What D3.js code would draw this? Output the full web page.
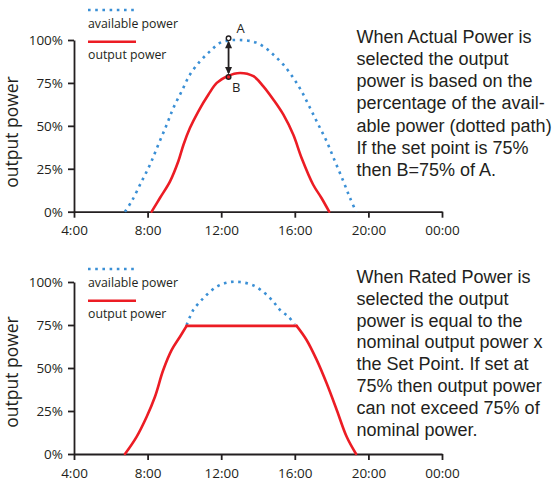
<!DOCTYPE html>
<html><head><meta charset="utf-8">
<script src="https://cdn.jsdelivr.net/npm/d3@7/dist/d3.min.js"></script>
<style>
body{margin:0;background:#fff;}
svg{display:block;}
</style></head>
<body>
<svg id="c" width="556" height="485"></svg>
<script>
// ---- data ----
const xTicks = [4, 8, 12, 16, 20, 24];
const xTickLabels = ["4:00", "8:00", "12:00", "16:00", "20:00", "00:00"];
const yTicks = [0, 25, 50, 75, 100];
const yTickLabels = ["0%", "25%", "50%", "75%", "100%"];

const topAvailHours = [6.77,7.13,7.68,8.13,8.58,9.04,9.40,9.85,10.3,10.85,11.39,11.93,12.48,13.02,13.75,14.29,14.84,15.38,15.92,16.37,16.83,17.28,17.73,18.18,18.64,19.0,19.33];
const topAvailValues = [0,6,17.7,27.4,39,50.7,60.4,70.1,79.8,87.6,93.4,98.3,99.8,100,99,96.3,91.4,85.6,77.9,70.1,60.4,50.7,41,29.4,17.7,8,0];

const topOutHours = [8.22,8.67,9.22,9.67,9.95,10.3,10.76,11.3,11.76,12.33,13.02,13.75,14.29,14.84,15.38,15.92,16.37,17.0,17.45,17.87];
const topOutValues = [0,8,17.7,29.4,39,48.7,58.5,68.1,75,78.9,80.8,78.9,73,65.2,56.5,44.8,31.3,15.7,8,0];

const pointA = {h: 12.4, v: 101};
const pointB = {h: 12.4, v: 78.5};

const botAvailHours = [10.12,10.48,10.85,11.2,11.76,12.38,13.02,13.75,14.38,14.84,15.2,15.65,16.0];
const botAvailValues = [75,83.7,88.5,92.4,97.3,99.8,100,98,93.4,88.5,83.7,79.8,75.5];

// output power (rated mode): rising part, flat cap, falling part
const botRiseHours = [6.77,7.4,7.95,8.4,8.85,9.31,9.76,10.12];
const botRiseValues = [0,10,21.7,33.3,48.8,60.5,68.2,74.5];
const botCapHours = [10.12,16.1];
const botCapValues = [74.5,74.5];
const botFallHours = [16.1,16.64,17.19,17.73,18.28,18.82,19.33];
const botFallValues = [74.5,66.3,54.7,41.1,25.6,10,0];

const legendLabels = ["available power", "output power"];
const yLabel = "output power";
const topText = ["When Actual Power is","selected the output","power is based on the","percentage of the avail-","able power (dotted path)","If the set point is 75%","then B=75% of A."];
const botText = ["When Rated Power is","selected the output","power is equal to the","nominal output power x","the Set Point. If set at","75% then output power","can not exceed 75% of","nominal power."];

// ---- style ----
const INK = "#231f20", BLUE = "#3a8fd5", RED = "#ec1c24";
const tickFont = "'Open Sans', sans-serif";
const svg = d3.select("#c");

const x = d3.scaleLinear().domain([4, 24]).range([74, 442]);

function panel(yTop, yBottom, legendTop, textLines, textBase, textStep, labelY) {
  const y = d3.scaleLinear().domain([0, 100]).range([yBottom, yTop]);
  const g = svg.append("g");

  const xa = g.append("g").attr("transform", `translate(0,${yBottom})`)
    .call(d3.axisBottom(x).tickValues(xTicks).tickFormat((d,i)=>xTickLabels[i]).tickSize(6).tickSizeOuter(0).tickPadding(8));
  const ya = g.append("g").attr("transform", `translate(74,0)`)
    .call(d3.axisLeft(y).tickValues(yTicks).tickFormat((d,i)=>yTickLabels[i]).tickSize(6).tickSizeOuter(0).tickPadding(5));
  [xa, ya].forEach(a => {
    a.selectAll("path,line").attr("stroke", INK).attr("stroke-width", 1.8);
    a.selectAll("text").attr("fill", INK).style("font-family", tickFont).style("font-size", "13.5px");
  });
  ya.selectAll("text").attr("dy", "0.36em");

  g.append("text").attr("transform", `translate(18,${labelY}) rotate(-90)`)
    .attr("text-anchor", "middle").attr("fill", INK)
    .style("font-family", tickFont).style("font-size", "17.5px").text(yLabel);

  // legend
  g.append("line").attr("x1", 88).attr("x2", 136).attr("y1", legendTop).attr("y2", legendTop)
    .attr("stroke", BLUE).attr("stroke-width", 2.6).attr("stroke-dasharray", "2.6,4.6");
  g.append("text").attr("x", 88).attr("y", legendTop + 18).attr("fill", INK)
    .style("font-family", tickFont).style("font-size", "12.3px").text(legendLabels[0]);
  g.append("line").attr("x1", 88).attr("x2", 136).attr("y1", legendTop + 31.7).attr("y2", legendTop + 31.7)
    .attr("stroke", RED).attr("stroke-width", 2.6);
  g.append("text").attr("x", 88).attr("y", legendTop + 49).attr("fill", INK)
    .style("font-family", tickFont).style("font-size", "12.3px").text(legendLabels[1]);

  const t = g.append("text").attr("fill", INK)
    .style("font-family", "'Liberation Sans', Arial, sans-serif").style("font-size", "18px");
  textLines.forEach((s, i) => t.append("tspan").attr("x", 356.5).attr("y", textBase + i * textStep).text(s));

  return {g, y};
}

function drawSeries(p, hours, values, color, dotted, curve) {
  const line = d3.line().x(d => x(d[0])).y(d => p.y(d[1])).curve(curve);
  const path = p.g.append("path").datum(d3.zip(hours, values)).attr("d", line)
    .attr("fill", "none").attr("stroke", color).attr("stroke-width", 2.6);
  if (dotted) path.attr("stroke-dasharray", "2.6,4.6");
  else path.attr("stroke-linecap", "round").attr("stroke-linejoin", "round");
}

const smooth = d3.curveCatmullRom.alpha(0.5);

const pTop = panel(40, 211.7, 10, topText, 42.7, 22.2, 132);
drawSeries(pTop, topAvailHours, topAvailValues, BLUE, true, smooth);
drawSeries(pTop, topOutHours, topOutValues, RED, false, smooth);

const pBot = panel(282, 454, 269, botText, 282.7, 21.9, 372);
drawSeries(pBot, botAvailHours, botAvailValues, BLUE, true, smooth);
drawSeries(pBot, botRiseHours, botRiseValues, RED, false, smooth);
drawSeries(pBot, botCapHours, botCapValues, RED, false, d3.curveLinear);
drawSeries(pBot, botFallHours, botFallValues, RED, false, smooth);

// A / B markers and arrow (top panel)
const yT = pTop.y;
const ax = x(pointA.h), ay = yT(pointA.v), by = yT(pointB.v);
svg.append("line").attr("x1", ax).attr("x2", ax).attr("y1", ay + 4).attr("y2", by - 4)
  .attr("stroke", INK).attr("stroke-width", 1.8);
svg.append("path").attr("d", `M${ax},${ay+2.5}L${ax-3.5},${ay+10}L${ax+3.5},${ay+10}Z`).attr("fill", INK);
svg.append("path").attr("d", `M${ax},${by-2.5}L${ax-3.5},${by-10}L${ax+3.5},${by-10}Z`).attr("fill", INK);
svg.append("circle").attr("cx", ax).attr("cy", ay).attr("r", 2.3).attr("fill", "#fff").attr("stroke", INK).attr("stroke-width", 1.4);
svg.append("circle").attr("cx", x(pointB.h)).attr("cy", by).attr("r", 2.3).attr("fill", RED).attr("stroke", INK).attr("stroke-width", 1.4);
svg.append("text").attr("x", ax + 8).attr("y", ay - 5).attr("fill", INK)
  .style("font-family", tickFont).style("font-size", "13px").text("A");
svg.append("text").attr("x", ax + 3.5).attr("y", by + 15.5).attr("fill", INK)
  .style("font-family", tickFont).style("font-size", "13px").text("B");
</script>
</body></html>
